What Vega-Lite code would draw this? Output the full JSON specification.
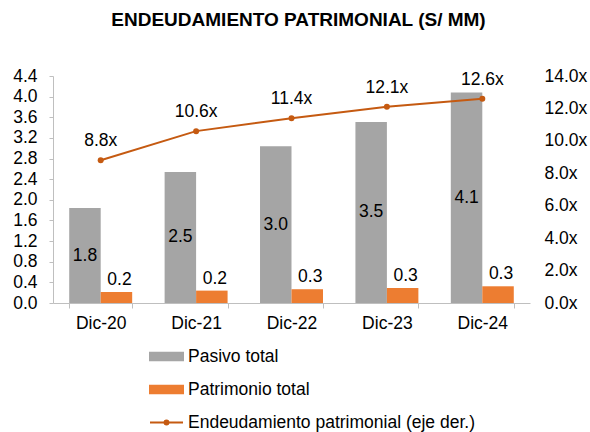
{
  "$schema": "https://vega.github.io/schema/vega-lite/v6.json",
  "width": 477,
  "height": 227,
  "autosize": "none",
  "padding": {"left": 53, "top": 76, "right": 60, "bottom": 129},
  "background": "white",
  "title": {
    "text": "ENDEUDAMIENTO PATRIMONIAL (S/ MM)",
    "font": "Liberation Sans",
    "fontSize": 19,
    "fontWeight": "bold",
    "color": "#000000",
    "anchor": "middle",
    "frame": "group",
    "baseline": "alphabetic",
    "offset": 22,
    "dx": 7
  },
  "config": {
    "view": {"stroke": null},
    "font": "Liberation Sans",
    "axis": {"grid": false, "labelFont": "Liberation Sans", "labelFontSize": 17.5, "labelColor": "#000000", "domainColor": "#bfbfbf", "tickColor": "#bfbfbf", "title": null},
    "text": {"font": "Liberation Sans", "fontSize": 17.5, "color": "#000000"}
  },
  "data": {
    "values": [
      {"year": "Dic-20", "Pasivo total": 1.84, "Patrimonio total": 0.211, "Endeudamiento": 8.8},
      {"year": "Dic-21", "Pasivo total": 2.54, "Patrimonio total": 0.240, "Endeudamiento": 10.6},
      {"year": "Dic-22", "Pasivo total": 3.04, "Patrimonio total": 0.267, "Endeudamiento": 11.4},
      {"year": "Dic-23", "Pasivo total": 3.51, "Patrimonio total": 0.290, "Endeudamiento": 12.1},
      {"year": "Dic-24", "Pasivo total": 4.08, "Patrimonio total": 0.324, "Endeudamiento": 12.6}
    ]
  },
  "encoding": {
    "x": {
      "field": "year", "type": "nominal", "sort": null,
      "scale": {"paddingInner": 0.34, "paddingOuter": 0.17},
      "axis": {"labelAngle": 0, "tickBand": "extent", "tickSize": 5, "labelPadding": 6, "domainWidth": 1}
    }
  },
  "layer": [
    {
      "transform": [{"fold": ["Pasivo total", "Patrimonio total"], "as": ["serie", "value"]}],
      "mark": {"type": "bar"},
      "encoding": {
        "xOffset": {"field": "serie", "type": "nominal", "scale": {"domain": ["Pasivo total", "Patrimonio total"], "padding": 0}},
        "y": {
          "field": "value", "type": "quantitative",
          "scale": {"domain": [0, 4.4], "nice": false, "zero": true},
          "axis": {"orient": "left", "values": [0, 0.4, 0.8, 1.2, 1.6, 2.0, 2.4, 2.8, 3.2, 3.6, 4.0, 4.4], "format": ".1f", "tickSize": 4, "labelPadding": 12}
        },
        "color": {
          "field": "serie", "type": "nominal",
          "scale": {"domain": ["Pasivo total", "Patrimonio total", "Endeudamiento patrimonial (eje der.)"], "range": ["#a5a5a5", "#ed7d31", "#c55a11"]},
          "legend": {
            "orient": "none", "legendX": 96, "legendY": 263,
            "direction": "vertical", "title": null,
            "labelFont": "Liberation Sans", "labelFontSize": 17.5, "labelColor": "#000000", "labelLimit": 500,
            "symbolSize": 1089, "rowPadding": 7, "labelOffset": 4,
            "encode": {
              "symbols": {
                "update": {
                  "shape": {"signal": "datum.value === 'Endeudamiento patrimonial (eje der.)' ? 'M-1,0H1M0.12,0A0.12,0.12 0 1,1 -0.12,0A0.12,0.12 0 1,1 0.12,0' : 'M-1,-0.22H1V0.22H-1Z'"},
                  "fill": {"signal": "datum.value === 'Endeudamiento patrimonial (eje der.)' ? 'transparent' : (datum.value === 'Pasivo total' ? '#a5a5a5' : '#ed7d31')"},
                  "stroke": {"signal": "datum.value === 'Endeudamiento patrimonial (eje der.)' ? '#c55a11' : 'transparent'"},
                  "strokeWidth": {"value": 2},
                  "opacity": {"value": 1}
                }
              }
            }
          }
        }
      }
    },
    {
      "transform": [{"fold": ["Pasivo total", "Patrimonio total"], "as": ["serie", "value"]}, {"filter": "datum.serie === 'Pasivo total'"}],
      "mark": {"type": "text", "baseline": "middle", "align": "center"},
      "encoding": {
        "xOffset": {"field": "serie", "type": "nominal", "scale": {"domain": ["Pasivo total", "Patrimonio total"], "padding": 0}},
        "y": {"field": "value", "type": "quantitative", "scale": {"domain": [0, 8.8], "nice": false}, "axis": null},
        "text": {"field": "value", "type": "quantitative", "format": ".1f"}
      }
    },
    {
      "transform": [{"fold": ["Pasivo total", "Patrimonio total"], "as": ["serie", "value"]}, {"filter": "datum.serie === 'Patrimonio total'"}],
      "mark": {"type": "text", "baseline": "alphabetic", "align": "center", "dy": -7, "dx": 3},
      "encoding": {
        "xOffset": {"field": "serie", "type": "nominal", "scale": {"domain": ["Pasivo total", "Patrimonio total"], "padding": 0}},
        "y": {"field": "value", "type": "quantitative", "scale": {"domain": [0, 4.4], "nice": false}, "axis": null},
        "text": {"field": "value", "type": "quantitative", "format": ".1f"}
      }
    },
    {
      "mark": {"type": "line", "strokeWidth": 2, "point": {"filled": true, "size": 36}},
      "encoding": {
        "y": {
          "field": "Endeudamiento", "type": "quantitative",
          "scale": {"domain": [0, 14], "nice": false},
          "axis": {"orient": "right", "values": [0, 2, 4, 6, 8, 10, 12, 14], "labelExpr": "format(datum.value, '.1f') + 'x'", "domain": false, "ticks": false, "labelPadding": 14}
        },
        "color": {"datum": "Endeudamiento patrimonial (eje der.)", "type": "nominal"}
      }
    },
    {
      "mark": {"type": "text", "baseline": "middle", "align": "center", "dy": -19, "text": {"expr": "format(datum.Endeudamiento, '.1f') + 'x'"}},
      "encoding": {
        "y": {"field": "Endeudamiento", "type": "quantitative", "scale": {"domain": [0, 14], "nice": false}, "axis": null}
      }
    }
  ],
  "resolve": {"scale": {"y": "independent"}, "axis": {"y": "independent"}}
}
